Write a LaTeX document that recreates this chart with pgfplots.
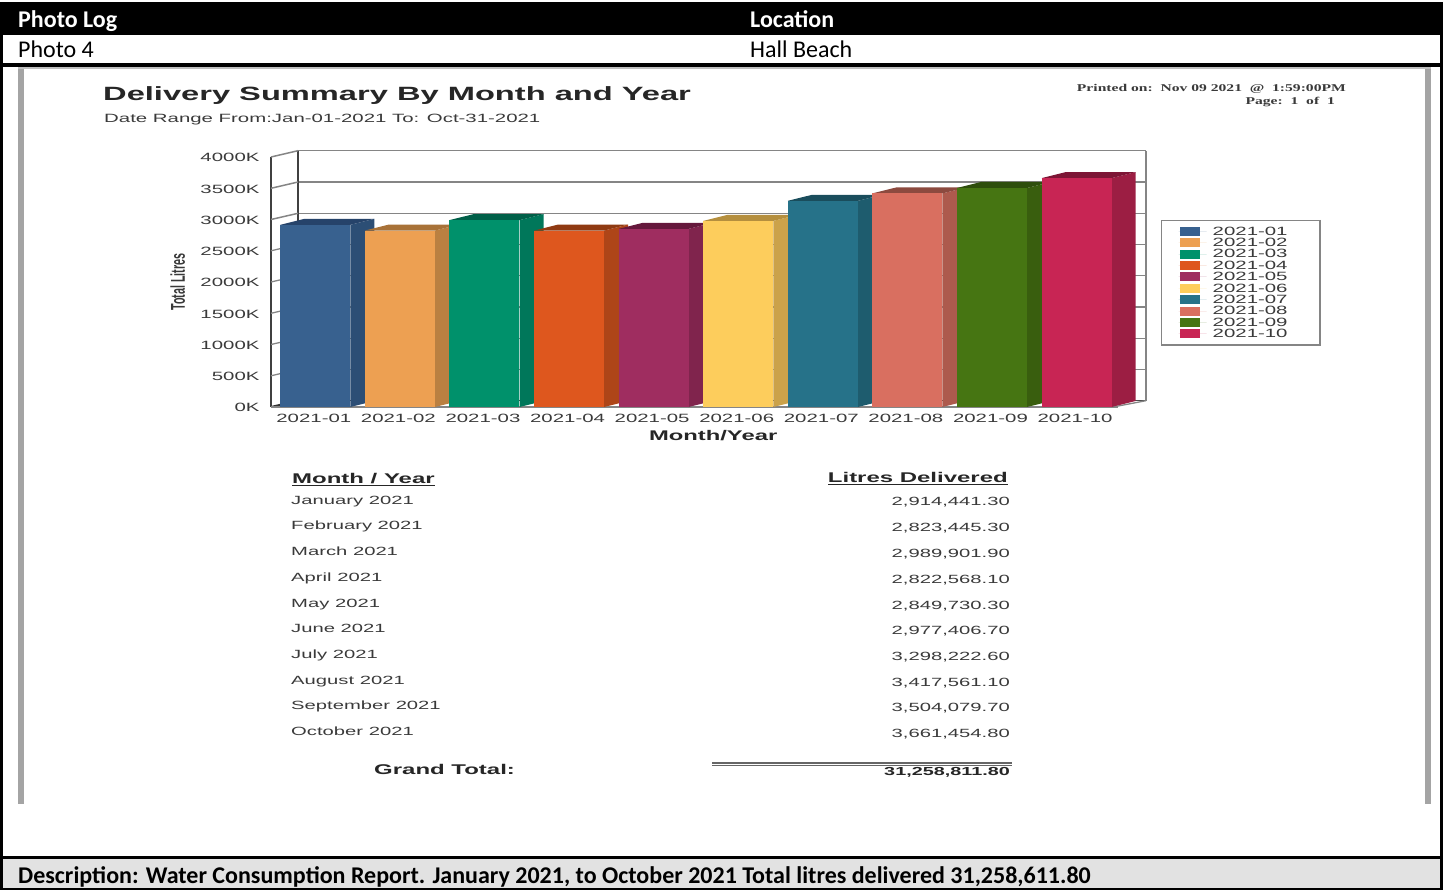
\documentclass[border=0pt]{standalone}
\usepackage{fontspec}
\usepackage{pgfplots}
\pgfplotsset{compat=1.18}
\setmainfont{Liberation Sans}
\newfontfamily\calib{Carlito}
\newfontfamily\rep[FakeStretch=1.7]{Liberation Sans}
\newfontfamily\reps[FakeStretch=1.5]{Liberation Serif}
\newfontfamily\ylab[FakeStretch=0.54]{Liberation Sans}
\definecolor{ink}{HTML}{3A3A3A}
\definecolor{wall}{HTML}{858585}
\definecolor{pageedge}{HTML}{A4A4A4}
\definecolor{descbg}{HTML}{E2E2E2}

% face colours: front, side, top
\definecolor{aF}{HTML}{38618F}\definecolor{aS}{HTML}{2C4E75}\definecolor{aT}{HTML}{26436A}
\definecolor{bF}{HTML}{EDA052}\definecolor{bS}{HTML}{BA8041}\definecolor{bT}{HTML}{A87238}
\definecolor{cF}{HTML}{00916B}\definecolor{cS}{HTML}{00775A}\definecolor{cT}{HTML}{005F48}
\definecolor{dF}{HTML}{DE571E}\definecolor{dS}{HTML}{AE4518}\definecolor{dT}{HTML}{8F3A12}
\definecolor{eF}{HTML}{9F2D60}\definecolor{eS}{HTML}{80244D}\definecolor{eT}{HTML}{65183C}
\definecolor{fF}{HTML}{FDCD5C}\definecolor{fS}{HTML}{CBA24A}\definecolor{fT}{HTML}{B58F3E}
\definecolor{gF}{HTML}{267289}\definecolor{gS}{HTML}{1E5C6E}\definecolor{gT}{HTML}{1A4D5C}
\definecolor{hF}{HTML}{D96F60}\definecolor{hS}{HTML}{AD5A4D}\definecolor{hT}{HTML}{8C4A3F}
\definecolor{iF}{HTML}{467512}\definecolor{iS}{HTML}{395E0E}\definecolor{iT}{HTML}{2E4E0C}
\definecolor{jF}{HTML}{C82554}\definecolor{jS}{HTML}{9C1E43}\definecolor{jT}{HTML}{7D1535}

% one 3D bar: position, value in K, colour prefix, legend text
\newcommand{\monthbar}[4]{%
  \pgfmathsetmacro{\xa}{#1+0.414}%
  \pgfmathsetmacro{\xb}{#1+0.698}%
  \pgfmathsetmacro{\xc}{#1-0.414}%
  \pgfmathsetmacro{\xd}{#1-0.130}%
  \pgfmathsetmacro{\yt}{#2+96}%
  \addplot[forget plot,fill=#3S,draw=none] coordinates {(\xa,0) (\xb,96) (\xb,\yt) (\xa,#2)} -- cycle;
  \addplot[forget plot,fill=#3T,draw=none] coordinates {(\xc,#2) (\xd,\yt) (\xb,\yt) (\xa,#2)} -- cycle;
  \addplot[ybar,bar width=70pt,bar shift=0pt,fill=#3F,draw=none] coordinates {(#1,#2)};
  \addlegendentry{#4\rule{10pt}{0pt}}
}

\newcommand{\rowL}[2]{\node[anchor=base west,inner sep=0pt,text=ink] at (291,#1) {\fontsize{11.9}{12}\rep #2};}
\newcommand{\rowR}[2]{\node[anchor=base east,inner sep=0pt,text=ink] at (1010,#1) {\fontsize{11.9}{12}\rep #2};}

\begin{document}
\begin{tikzpicture}[x=1pt,y=-1pt]
\useasboundingbox (0,0) rectangle (1443,890);

% page frame
\fill[black] (0,2) rectangle (1443,35);
\fill[black] (0,35) rectangle (3,890);
\fill[black] (1440,35) rectangle (1443,890);
\fill[black] (0,63) rectangle (1443,67);
\fill[descbg] (3,859) rectangle (1440,888);
\fill[black] (0,856) rectangle (1443,859);
\fill[black] (0,888) rectangle (1443,890);
\node[anchor=base west,inner sep=0pt,text=white] at (18,28) {\fontsize{24}{26}\calib\bfseries Photo Log};
\node[anchor=base west,inner sep=0pt,text=white] at (750,28) {\fontsize{24}{26}\calib\bfseries Location};
\node[anchor=base west,inner sep=0pt] at (18,58) {\fontsize{24}{26}\calib Photo 4};
\node[anchor=base west,inner sep=0pt] at (750,58) {\fontsize{24}{26}\calib Hall Beach};
\node[anchor=base west,inner sep=0pt] at (18,883) {\fontsize{24}{26}\calib\bfseries Description: Water Consumption Report. January 2021, to October 2021 Total litres delivered 31,258,611.80};

% report page edges
\fill[pageedge] (18,67) rectangle (24,804);
\fill[pageedge] (1425,67) rectangle (1431,804);
\fill[pageedge!70] (18,67) rectangle (1431,69);

% report heading
\node[anchor=base west,inner sep=0pt,text=black!85] at (103,101) {\fontsize{19.2}{20}\rep\bfseries Delivery Summary By Month and Year};
\node[anchor=base west,inner sep=0pt,text=ink] at (104,123) {\fontsize{12}{13}\rep Date Range From:Jan-01-2021 To: Oct-31-2021};
\node[anchor=base east,inner sep=0pt,text=ink] at (1346,92) {\fontsize{10.4}{11}\reps\bfseries Printed on:\ \ Nov 09 2021\ \ @\ \ 1:59:00PM};
\node[anchor=base east,inner sep=0pt,text=ink] at (1335,105) {\fontsize{10.4}{11}\reps\bfseries Page:\ \ 1\ \ of\ \ 1};

% chart walls behind the bars
\draw[wall,line width=1.5pt] (298,150.7) -- (1146,150.7);
\draw[wall,line width=1.5pt] (298,182) -- (1146,182);
\draw[wall,line width=1.5pt] (298,213.3) -- (1146,213.3);
\draw[wall,line width=1.3pt] (298,244.5) -- (1146,244.5);
\draw[wall,line width=1.3pt] (298,275.8) -- (1146,275.8);
\draw[wall,line width=1.3pt] (298,307) -- (1146,307);
\draw[wall,line width=1.3pt] (298,338.3) -- (1146,338.3);
\draw[wall,line width=1.3pt] (298,369.5) -- (1146,369.5);
\draw[black!70,line width=1.3pt] (298,400.7) -- (1146,400.7);
\draw[black!75,line width=2pt] (298,150.7) -- (298,400.7);
\draw[black!75,line width=2pt] (271,157) -- (271,407);
\draw[wall,line width=2.4pt] (1146,150.7) -- (1146,400.7);
\draw[wall,line width=1.5pt] (271,157) -- (298,150.7);
\draw[wall,line width=1.5pt] (271,188.3) -- (298,182);
\draw[wall,line width=1.5pt] (271,219.5) -- (298,213.3);
\draw[wall,line width=1.3pt] (271,250.8) -- (298,244.5);
\draw[wall,line width=1.3pt] (271,282) -- (298,275.8);
\draw[wall,line width=1.3pt] (271,313.3) -- (298,307);
\draw[wall,line width=1.3pt] (271,344.5) -- (298,338.3);
\draw[wall,line width=1.3pt] (271,375.8) -- (298,369.5);
\draw[black!80,line width=2pt] (271,407) -- (298,400.7);
\draw[wall,line width=1.3pt] (1113,407) -- (1146,400.7);

\begin{axis}[
    at={(271pt,-407pt)}, anchor=south west,
    scale only axis,
    width=847pt, height=250pt,
    xmin=-0.524, xmax=9.49,
    ymin=0, ymax=4000,
    clip=false,
    axis x line*=bottom,
    axis y line*=left,
    x axis line style={-,draw=wall,line width=1.2pt},
    y axis line style={draw=none,-},
    tick style={draw=none},
    xtick={0,...,9},
    xticklabels={2021-01,2021-02,2021-03,2021-04,2021-05,2021-06,2021-07,2021-08,2021-09,2021-10},
    ytick={0,500,1000,1500,2000,2500,3000,3500,4000},
    yticklabels={0K,500K,1000K,1500K,2000K,2500K,3000K,3500K,4000K},
    x tick label style={font=\fontsize{12}{13}\rep,text=ink,yshift=-4pt,xshift=-1.5pt},
    y tick label style={font=\fontsize{12}{13}\rep,text=ink,xshift=-8pt,yshift=-0.8pt},
    xlabel={\fontsize{14}{15}\rep\bfseries Month/Year},
    xlabel style={at={(axis description cs:0.522,-0.114)},anchor=center,inner sep=0pt,text=black!85},
    ylabel={\fontsize{20}{21}\ylab\bfseries Total Litres},
    ylabel style={at={(axis description cs:-0.11,0.5)},anchor=center,inner sep=0pt,text=ink,rotate=0},
    legend image code/.code={\fill[#1] (1pt,-4.5pt) rectangle (21pt,4.5pt); \path (0pt,0pt) -- (28pt,0pt);},
    legend cell align=left,
    legend style={
        at={(1.0508,0.748)}, anchor=north west,
        draw=wall, line width=1.4pt,
        font=\fontsize{12}{13}\rep, text=ink,
        row sep=1.55pt, inner xsep=17pt, inner ysep=6pt,
        nodes={inner ysep=0pt,inner xsep=6pt,text height=8.6pt,text depth=1.2pt},
    },
]
\monthbar{0}{2914.4413}{a}{2021-01}
\monthbar{1}{2823.4453}{b}{2021-02}
\monthbar{2}{2989.9019}{c}{2021-03}
\monthbar{3}{2822.5681}{d}{2021-04}
\monthbar{4}{2849.7303}{e}{2021-05}
\monthbar{5}{2977.4067}{f}{2021-06}
\monthbar{6}{3298.2226}{g}{2021-07}
\monthbar{7}{3417.5611}{h}{2021-08}
\monthbar{8}{3504.0797}{i}{2021-09}
\monthbar{9}{3661.4548}{j}{2021-10}
\end{axis}

% heavier right and bottom edge of the legend box
\draw[wall,line width=2pt] (1320,220) -- (1320,345) -- (1161,345);

% summary table
\node[anchor=base west,inner sep=0pt,text=black!85] at (292,483) {\fontsize{14.1}{15}\rep\bfseries Month / Year};
\node[anchor=base east,inner sep=0pt,text=black!85] at (1008,482) {\fontsize{14.1}{15}\rep\bfseries Litres Delivered};
\draw[black!85,line width=1.2pt] (292,485.5) -- (435,485.5);
\draw[black!85,line width=1.2pt] (828,484.5) -- (1008,484.5);
\rowL{504}{January 2021}
\rowL{529}{February 2021}
\rowL{555}{March 2021}
\rowL{581}{April 2021}
\rowL{607}{May 2021}
\rowL{632}{June 2021}
\rowL{658}{July 2021}
\rowL{684}{August 2021}
\rowL{709}{September 2021}
\rowL{735}{October 2021}
\rowR{505}{2,914,441.30}
\rowR{531}{2,823,445.30}
\rowR{557}{2,989,901.90}
\rowR{583}{2,822,568.10}
\rowR{609}{2,849,730.30}
\rowR{634}{2,977,406.70}
\rowR{660}{3,298,222.60}
\rowR{686}{3,417,561.10}
\rowR{711}{3,504,079.70}
\rowR{737}{3,661,454.80}
\node[anchor=base west,inner sep=0pt,text=black!85] at (374,774) {\fontsize{14.1}{15}\rep\bfseries Grand Total:};
\draw[black!60,line width=1.6pt] (712,762.7) -- (1012,762.7);
\draw[black!60,line width=1.6pt] (712,765.3) -- (1012,765.3);
\node[anchor=base east,inner sep=0pt,text=black!85] at (1010,775) {\fontsize{11.65}{12}\rep\bfseries 31,258,811.80};
\end{tikzpicture}
\end{document}
